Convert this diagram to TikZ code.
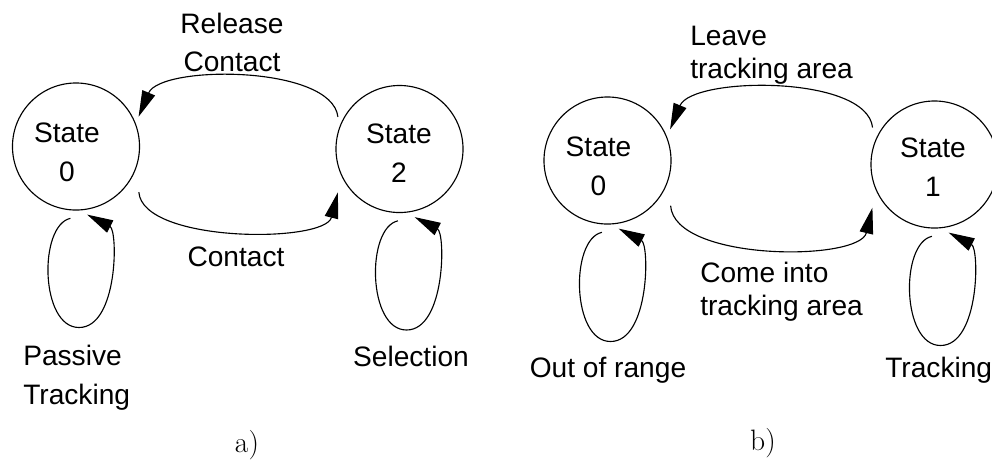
\documentclass[tikz,border=0pt]{standalone}
\usepackage{fontspec}
\newfontfamily\uifont{Liberation Sans}
\usetikzlibrary{arrows.meta}

\tikzset{
  state/.style={circle, draw, line width=0.8pt, minimum size=3.175cm, inner sep=0pt},
  lbl/.style={font=\uifont\fontsize{20}{27.5}\selectfont, inner sep=0pt, align=center},
  lblL/.style={font=\uifont\fontsize{20}{27.5}\selectfont, inner sep=0pt, align=left, anchor=west},
  lblT/.style={font=\uifont\fontsize{20}{23.5}\selectfont, inner sep=0pt, align=left, anchor=west},
  caption/.style={font=\fontsize{21}{25}\selectfont, inner sep=0pt},
  trans/.style={line width=0.8pt, -{Triangle[length=0.65cm,width=0.34cm]}},
}

% self transition hanging below a state, shifted sideways by #2
\newcommand\selfloop[2]{%
  \draw[trans] ([shift={(#2,8)}]#1.-95)
    .. controls +(-32,7) and +(-39,0) .. ([shift={(3+#2,181)}]#1.center)
    .. controls +(39,0) and +(31,16) .. ([shift={(#2,5)}]#1.-80);}

\begin{document}
\begin{tikzpicture}[x=0.025cm, y=-0.025cm]
\useasboundingbox (0,0) rectangle (992,463);

% ---- a) contact states ----
\node[state] (s0) at (76,146.5) {};
\node[state] (s2) at (399.5,149) {};
\node[lbl] (s0t) at (67,152) {State\\0};
\node[lbl] (s2t) at (399,153.5) {State\\2};

\draw[trans] ([shift={(-5,-2)}]s2.152) .. controls +(-6,-52) and +(22,-52) .. ([shift={(4.5,-2.7)}]s0.25);
\draw[trans] ([shift={(11,8)}]s0.-36) .. controls +(4,51) and +(-13,51) .. ([shift={(-14,0.5)}]s2.-138);
\selfloop{s0}{0}
\selfloop{s2}{4}

\node[lbl] (relc) at (232,42.5) {Release\\Contact};
\node[lbl] (cont) at (236,257) {Contact};
\node[lblL] (pass) at (23,378) {Passive\\Tracking};
\node[lbl] (sel) at (411,356) {Selection};
\node[caption] (capa) at (247,445) {a)};

% ---- b) tracking states ----
\node[state] (r0) at (607.5,160.5) {};
\node[state] (r1) at (934.5,164.5) {};
\node[lbl] (r0t) at (598.5,166.5) {State\\0};
\node[lbl] (r1t) at (933,167.5) {State\\1};

\draw[trans] ([shift={(-7,-4)}]r1.149) .. controls +(-6,-53) and +(22,-53) .. ([shift={(6,-1)}]r0.28);
\draw[trans] ([shift={(14,4)}]r0.-40) .. controls +(4,56) and +(-13,54) .. ([shift={(-13,2)}]r1.-140);
\selfloop{r0}{0}
\selfloop{r1}{3}

\node[lblT] (leave) at (690,55.5) {Leave\\tracking area};
\node[lblT] (come) at (700,291.5) {Come into\\tracking area};
\node[lbl] (oor) at (608,370) {Out of range};
\node[lblL] (trk) at (885,370) {Tracking};
\node[caption] (capb) at (763,443) {b)};
\end{tikzpicture}
\end{document}
